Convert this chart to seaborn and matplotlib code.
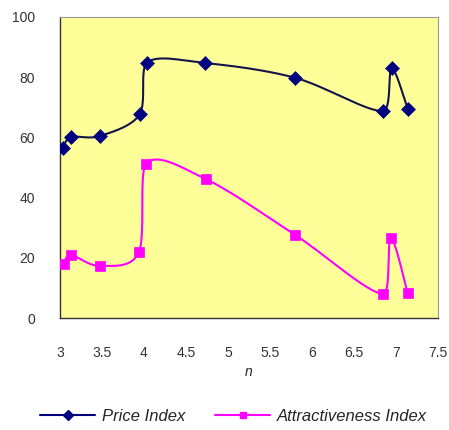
import numpy as np
import pandas as pd
import matplotlib
matplotlib.use("Agg")
import matplotlib.pyplot as plt
import seaborn as sns
from matplotlib.lines import Line2D

# Data
n_vals = [3.04, 3.13, 3.48, 3.95, 4.03, 4.73, 5.80, 6.85, 6.95, 7.14]
price_index = [56.5, 60.1, 60.5, 67.7, 84.8, 84.7, 79.8, 68.8, 82.9, 69.4]
attr_n = [3.05, 3.13, 3.48, 3.94, 4.02, 4.74, 5.80, 6.85, 6.94, 7.14]
attr_index = [17.9, 20.9, 17.3, 21.9, 51.2, 46.1, 27.6, 8.0, 26.5, 8.2]
x_ticks = [3, 3.5, 4, 4.5, 5, 5.5, 6, 6.5, 7, 7.5]
x_tick_labels = ["3", "3.5", "4", "4.5", "5", "5.5", "6", "6.5", "7", "7.5"]
y_ticks = [0, 20, 40, 60, 80, 100]
series_names = ["Price Index", "Attractiveness Index"]

sns.set_theme(style="white")
plt.rcParams['font.family'] = ['Liberation Sans', 'DejaVu Sans']


def smooth(xs, ys, steps=40):
    """Excel-like smoothed line (Bezier) through the points, no backward loops."""
    P = np.column_stack([xs, ys]).astype(float)
    n = len(P)
    out = []
    for i in range(n - 1):
        p0 = P[i - 1] if i > 0 else P[i]
        p1 = P[i]
        p2 = P[i + 1]
        p3 = P[i + 2] if i + 2 < n else P[i + 1]
        c1 = p1 + (p2 - p0) / 6.0
        c2 = p2 - (p3 - p1) / 6.0
        lo, hi = min(p1[0], p2[0]), max(p1[0], p2[0])
        c1[0] = np.clip(c1[0], lo, hi)
        c2[0] = np.clip(c2[0], lo, hi)
        t = np.linspace(0, 1, steps)[:, None]
        seg = ((1 - t) ** 3) * p1 + 3 * ((1 - t) ** 2) * t * c1 + 3 * (1 - t) * t ** 2 * c2 + t ** 3 * p2
        out.append(seg if i == 0 else seg[1:])
    out = np.vstack(out)
    return out[:, 0], out[:, 1]


fig = plt.figure(figsize=(4.49, 4.30), dpi=100)
ax = fig.add_axes([60 / 449, 1 - 318 / 430, 378 / 449, 301 / 430])
ax.set_facecolor("#FFFF99")

navy = "#000080"
navy_line = "#14144a"
magenta = "#FF00FF"

sx, sy = smooth(n_vals, price_index)
ax.plot(sx, sy, color=navy_line, lw=1.5, zorder=2)
sx2, sy2 = smooth(attr_n, attr_index)
ax.plot(sx2, sy2, color=magenta, lw=1.5, zorder=2)

df_p = pd.DataFrame({"n": n_vals, "v": price_index})
df_a = pd.DataFrame({"n": attr_n, "v": attr_index})
sns.scatterplot(data=df_p, x="n", y="v", ax=ax, marker="D", s=50, color=navy,
                edgecolor=navy, linewidth=0.5, zorder=3)
sns.scatterplot(data=df_a, x="n", y="v", ax=ax, marker="s", s=42, color=magenta,
                edgecolor=magenta, linewidth=0.5, zorder=3)

ax.set_xlim(3, 7.5)
ax.set_ylim(0, 100)
ax.set_xticks(x_ticks)
ax.set_xticklabels(x_tick_labels)
ax.set_yticks(y_ticks)
ax.set_xlabel("n", fontstyle="italic", fontsize=10, color="#222222", labelpad=4)
ax.set_ylabel("")
ax.tick_params(axis="both", which="major", direction="out", length=4, width=0.8,
               colors="#444444", labelsize=10, labelcolor="#333333")
ax.tick_params(axis="x", pad=16)
ax.tick_params(axis="y", pad=14)

for side in ["left", "bottom"]:
    ax.spines[side].set_color("#333333")
    ax.spines[side].set_linewidth(1.0)
for side in ["top", "right"]:
    ax.spines[side].set_color("#999999")
    ax.spines[side].set_linewidth(0.8)

handles = [Line2D([0], [0], color=navy, lw=1.5, marker="D", markersize=5),
           Line2D([0], [0], color=magenta, lw=1.5, marker="s", markersize=5)]
leg = fig.legend(handles, series_names, loc="lower center", bbox_to_anchor=(0.52, -0.005),
                 ncol=2, frameon=False, handlelength=3.3, columnspacing=1.8,
                 handletextpad=0.4, borderpad=0.0, prop={"style": "italic", "size": 12})

fig.savefig("out.png", dpi=100, facecolor="white")
